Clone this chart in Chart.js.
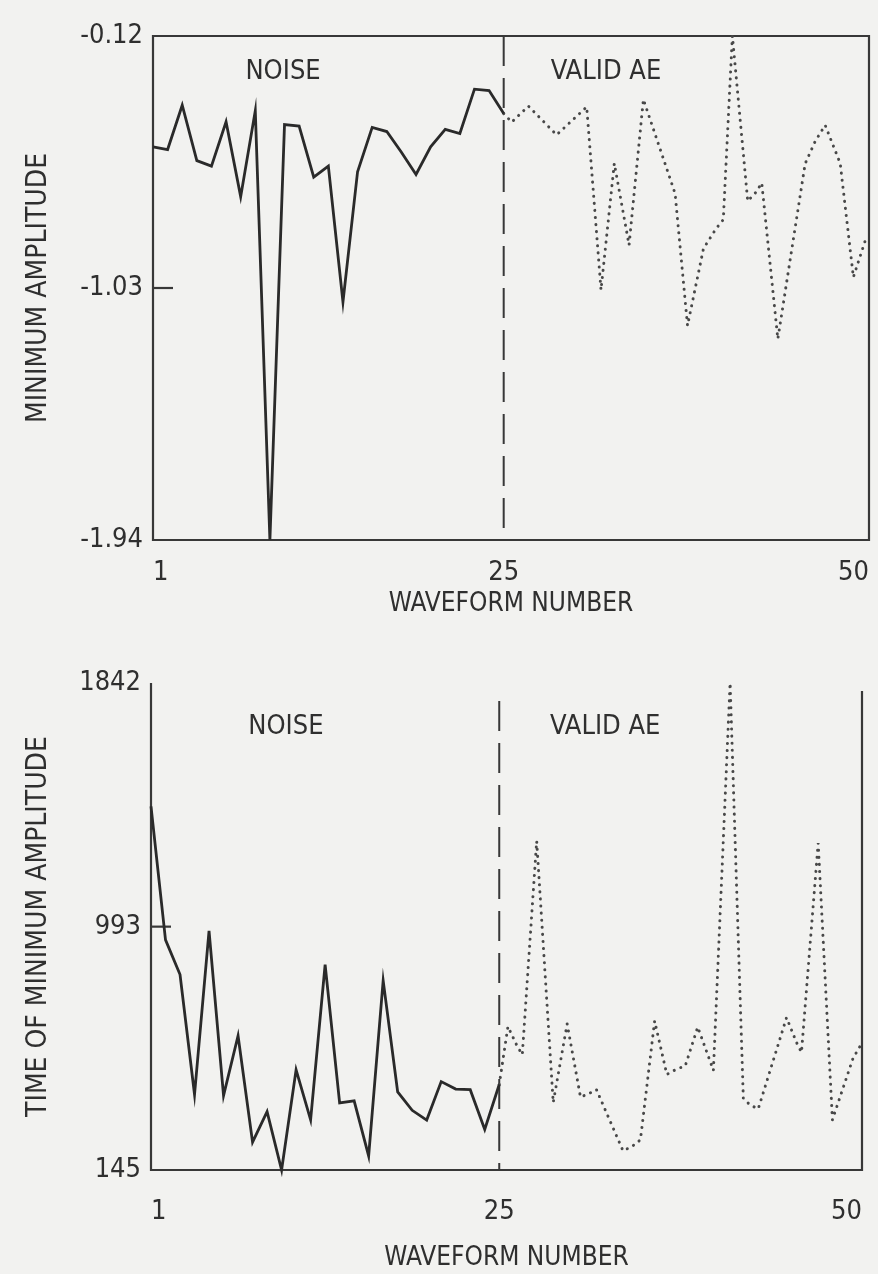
<!DOCTYPE html>
<html>
<head>
<meta charset="utf-8">
<script src="https://cdn.jsdelivr.net/npm/chart.js@4.4.1/dist/chart.umd.min.js"></script>
<style>
  html, body { margin: 0; padding: 0; background: #f2f2f0; }
  canvas { position: absolute; left: 0; }
  #ampChart { top: 0; }
  #timeChart { top: 620px; }
</style>
</head>
<body>
<canvas id="ampChart" width="878" height="620"></canvas>
<canvas id="timeChart" width="878" height="654"></canvas>
<script>
// waveform numbers (x axis)
const waveformTicks = [1, 25, 50];
const noiseWaveforms = [1, 2, 3, 4, 5, 6, 7, 8, 9, 10, 11, 12, 13, 14, 15, 16, 17, 18, 19, 20, 21, 22, 23, 24, 25];

// minimum amplitude
const ampTicks = [-1.94, -1.03, -0.12];
const ampNoise = [-0.52, -0.53, -0.37, -0.57, -0.59, -0.43, -0.70, -0.39, -1.94, -0.44, -0.445, -0.63, -0.59,
                  -1.08, -0.61, -0.45, -0.465, -0.54, -0.62, -0.52, -0.457, -0.472, -0.312, -0.317, -0.40];
const ampValidX = [25, 25.55, 26.69, 28.62, 30.68, 31.66, 32.57, 33.58, 34.56, 36.73, 37.58, 38.67, 39.53,
                   40.03, 40.65, 41.70, 42.25, 42.66, 43.76, 45.63, 46.31, 47.00, 48.03, 48.93, 49.73];
const ampValid = [-0.40, -0.431, -0.373, -0.477, -0.376, -1.037, -0.580, -0.875, -0.349, -0.689, -1.166, -0.888, -0.816,
                  -0.783, -0.12, -0.716, -0.685, -0.651, -1.214, -0.581, -0.501, -0.442, -0.580, -0.991, -0.861];

// time of minimum amplitude
const timeTicks = [145, 993, 1842];
const timeNoise = [1412, 947, 826, 408, 978, 404, 613, 242, 348, 145, 494, 320, 861, 379, 386, 194, 805, 417,
                   353, 319, 453, 427, 425, 286, 443];
const timeValidX = [25, 25.60, 26.24, 26.59, 27.58, 28.72, 29.68, 30.60, 31.17, 31.70, 33.53, 34.15, 34.73, 35.71,
                    36.55, 37.20, 37.82, 38.68, 39.76, 40.91, 41.82, 42.28, 42.85, 44.80, 45.49, 45.83, 46.98,
                    47.96, 49.38, 49.85];
const timeValid = [443, 645, 576, 547, 1291, 380, 654, 399, 411, 425, 212, 227, 250, 664, 478, 496, 508, 643,
                   492, 1842, 395, 372, 358, 676, 589, 555, 1284, 320, 534, 575];

const FONT = "'Liberation Sans Narrow', 'DejaVu Sans Condensed', 'Arial Narrow', sans-serif";
const INK = '#2f2f2f';

const decor = {
  id: 'decor',
  beforeDatasetsDraw(chart, args, o) {
    const {ctx, chartArea: a, scales: {x, y}} = chart;
    ctx.save();
    ctx.strokeStyle = '#383838';
    ctx.lineWidth = 2.2;
    ctx.beginPath();
    if (o.box) {
      ctx.rect(a.left, a.top, a.width, a.height);
    } else {
      ctx.moveTo(a.left, a.top);
      ctx.lineTo(a.left, a.bottom);
      ctx.lineTo(a.right, a.bottom);
      ctx.lineTo(a.right, a.top + o.rightGap);
    }
    ctx.stroke();

    // short inner tick at the middle value
    const ym = y.getPixelForValue(o.midTick);
    ctx.beginPath();
    ctx.moveTo(a.left, ym);
    ctx.lineTo(a.left + 20, ym);
    ctx.stroke();

    // dashed separator between noise and valid AE
    const xs = x.getPixelForValue(o.split);
    ctx.setLineDash([30, 12]);
    ctx.lineWidth = 2;
    ctx.beginPath();
    ctx.moveTo(xs, a.top + o.dashGap);
    ctx.lineTo(xs, a.bottom);
    ctx.stroke();
    ctx.setLineDash([]);

    ctx.fillStyle = INK;
    ctx.font = '27px ' + FONT;
    ctx.textAlign = 'center';
    ctx.textBaseline = 'middle';
    o.labels.forEach(l => ctx.fillText(l.text, x.getPixelForValue(l.at), a.top + o.labelDy));
    ctx.restore();
  }
};

function makeChart(id, c) {
  return new Chart(document.getElementById(id), {
    type: 'line',
    data: {
      datasets: [{
        data: noiseWaveforms.map((w, i) => ({x: w, y: c.noise[i]})),
        borderColor: '#2a2a2a',
        borderWidth: 2.8,
        pointRadius: 0,
        clip: false
      }, {
        data: c.validX.map((w, i) => ({x: w, y: c.valid[i]})),
        borderColor: '#484848',
        borderWidth: 3,
        borderDash: [0.1, 7],
        borderCapStyle: 'round',
        pointRadius: 0,
        clip: false
      }]
    },
    options: {
      responsive: false,
      animation: false,
      layout: {padding: {top: c.top, right: c.right, bottom: 0, left: 0}},
      plugins: {
        legend: {display: false},
        tooltip: {enabled: false},
        decor: c.decor
      },
      scales: {
        x: {
          type: 'linear',
          min: 1,
          max: 50,
          afterBuildTicks: s => { s.ticks = waveformTicks.map(v => ({value: v})); },
          afterFit: s => { s.height = c.xHeight; s.paddingLeft = 0; s.paddingRight = 0; },
          grid: {display: false, drawTicks: false},
          border: {display: false},
          ticks: {font: {family: FONT, size: 27}, color: INK, padding: c.xPad, maxRotation: 0, autoSkip: false,
                  align: 'inner', callback: v => String(v)},
          title: {display: true, text: 'WAVEFORM NUMBER', font: {family: FONT, size: 26}, color: INK,
                  padding: {top: 0, bottom: 0}}
        },
        y: {
          min: c.ticks[0],
          max: c.ticks[2],
          afterBuildTicks: s => { s.ticks = c.ticks.map(v => ({value: v})); },
          afterFit: s => { s.width = c.left; s.paddingTop = 0; s.paddingBottom = 0; },
          grid: {display: false, drawTicks: false},
          border: {display: false},
          ticks: {font: {family: FONT, size: 27}, color: INK, padding: 10, autoSkip: false, callback: c.fmt},
          title: {display: true, text: c.yTitle, font: {family: FONT, size: 28}, color: INK,
                  padding: {top: 22, bottom: 0}}
        }
      }
    },
    plugins: [decor]
  });
}

makeChart('ampChart', {
  noise: ampNoise, validX: ampValidX, valid: ampValid, ticks: ampTicks,
  fmt: v => v.toFixed(2), yTitle: 'MINIMUM AMPLITUDE',
  top: 36, right: 9, left: 153, xHeight: 80, xPad: 17,
  decor: {box: true, rightGap: 0, midTick: -1.03, split: 25, dashGap: 0, labelDy: 36,
          labels: [{text: 'NOISE', at: 9.9}, {text: 'VALID AE', at: 32.0}]}
});

makeChart('timeChart', {
  noise: timeNoise, validX: timeValidX, valid: timeValid, ticks: timeTicks,
  fmt: v => String(Math.round(v)), yTitle: 'TIME OF MINIMUM AMPLITUDE',
  top: 63, right: 16, left: 151, xHeight: 104, xPad: 26,
  decor: {box: false, rightGap: 8, midTick: 993, split: 25, dashGap: 18, labelDy: 44,
          labels: [{text: 'NOISE', at: 10.3}, {text: 'VALID AE', at: 32.3}]}
});
</script>
</body>
</html>
